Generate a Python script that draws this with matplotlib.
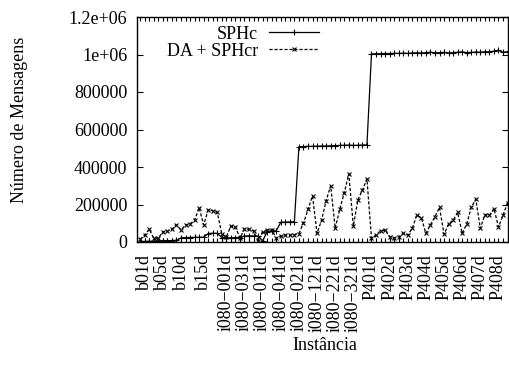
import matplotlib
matplotlib.use('Agg')
import matplotlib.pyplot as plt

plt.rcParams['font.family'] = ['Liberation Serif', 'DejaVu Serif']
plt.rcParams['font.size'] = 13

# label positions along the instance axis (one instance per index)
tick_pos = [1, 5, 9, 14, 19, 23, 27, 31, 35, 39, 43, 47,
            51, 55, 59, 63, 67, 71, 75, 79]
tick_labels = ['b01d', 'b05d', 'b10d', 'b15d',
               'i080\u2212001d', 'i080\u2212031d', 'i080\u2212011d', 'i080\u2212041d',
               'i080\u2212021d', 'i080\u2212121d', 'i080\u2212221d', 'i080\u2212321d',
               'P401d', 'P402d', 'P403d', 'P404d', 'P405d', 'P406d', 'P407d', 'P408d']

sphc = [2000, 3000, 4000, 5000, 6000, 7000, 7000, 8000, 9000,
        22000, 23000, 24000, 25000, 25000, 26000,
        45000, 47000, 46000,
        24000, 22000, 22000, 23000, 24000,
        32000, 33000, 32000, 31000,
        6000, 55000, 58000, 60000,
        105000, 106000, 107000, 108000,
        508000, 509000, 510000, 510000, 511000, 512000, 512000, 513000,
        514000, 515000, 516000, 517000, 515000, 516000, 517000, 518000,
        1003000, 1004000, 1004000, 1005000, 1005000, 1006000, 1006000, 1007000,
        1006000, 1008000, 1009000, 1008000, 1010000, 1012000, 1009000, 1010000,
        1011000, 1008000, 1010000, 1012000, 1014000, 1010000, 1011000, 1013000,
        1012000, 1015000, 1014000, 1018000, 1022000, 1012000, 1015000]

da_sphcr = [14000, 37000, 68000, 20000, 20000, 55000, 58000, 68000, 91000, 65000,
            91000, 96000, 117000, 183000, 91000, 171000, 167000, 158000, 43000, 28000,
            85000, 80000, 21000, 69000, 68000, 58000, 7000, 55000, 64000, 64000,
            20000, 32000, 37000, 37000, 40000, 45000, 100000, 174000, 245000, 46000,
            117000, 220000, 300000, 73000, 174000, 263000, 363000, 85000, 224000, 277000,
            336000, 20000, 37000, 60000, 64000, 28000, 20000, 28000, 46000, 37000,
            73000, 144000, 128000, 46000, 91000, 135000, 185000, 41000, 96000, 117000,
            158000, 46000, 96000, 185000, 228000, 73000, 146000, 142000, 178000, 80000,
            142000, 210000]

x = list(range(len(sphc)))

fig = plt.figure(figsize=(5.09, 3.76), dpi=100)
ax = fig.add_axes([137 / 509, 134 / 376, 371 / 509, 225 / 376])

ax.plot(x, sphc, color='black', lw=0.9, marker='+', ms=4, mew=0.8, label='SPHc')
ax.plot(x, da_sphcr, color='black', lw=0.9, ls=(0, (2.5, 1.5)), marker='x', ms=3.5,
        mew=0.8, label='DA + SPHcr')

ax.set_xlim(-0.7, 81.1)
ax.set_ylim(0, 1.2e6)
ax.set_yticks([0, 200000, 400000, 600000, 800000, 1000000, 1200000])
ax.set_yticklabels(['0', '200000', '400000', '600000', '800000', '1e+06', '1.2e+06'])

labels = [''] * len(x)
for p, t in zip(tick_pos, tick_labels):
    labels[p] = t
ax.set_xticks(x)
ax.set_xticklabels(labels, rotation=90, va='top', ha='center')

ax.tick_params(axis='x', direction='in', top=True, length=3, width=0.8, pad=8.5)
ax.tick_params(axis='y', direction='in', right=True, length=4, width=0.8, pad=7)
for s in ax.spines.values():
    s.set_linewidth(1.0)

leg = ax.legend(loc='upper left', bbox_to_anchor=(0.08, 0.962), frameon=False,
                markerfirst=False, handlelength=2.8, handletextpad=0.6,
                borderpad=0, borderaxespad=0, labelspacing=0.0)

fig.text(20 / 509, 1 - 120 / 376, 'Número de Mensagens', rotation=90,
         ha='center', va='center')
fig.text(325 / 509, 1 - 345 / 376, 'Instância', ha='center', va='center')

fig.savefig('out.png', dpi=100)
